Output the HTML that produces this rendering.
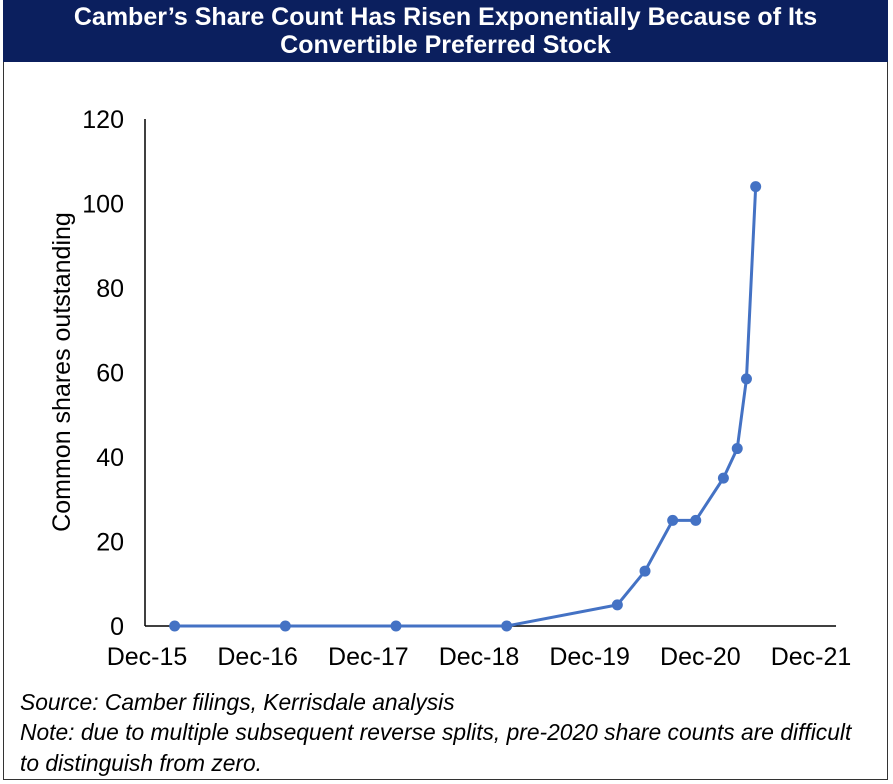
<!DOCTYPE html>
<html><head><meta charset="utf-8"><style>
body{margin:0;width:893px;height:784px;background:#fff;font-family:"Liberation Sans",Arial,sans-serif;overflow:hidden}
#frame{position:absolute;left:3px;top:0;width:885px;height:780px;border:1px solid #333;box-sizing:border-box}
#title{position:absolute;left:3px;top:0;width:885px;height:62px;background:#0b1f5e;color:#fff;font-weight:bold;font-size:25px;text-align:center;line-height:28px;padding-top:3px;box-sizing:border-box;white-space:nowrap}
.note{position:absolute;left:20px;font-style:italic;font-size:22.8px;color:#000}
</style></head><body>
<div id="frame"></div>
<div id="title">Camber’s Share Count Has Risen Exponentially Because of Its<br>Convertible Preferred Stock</div>
<svg id="chart" width="893" height="784" style="position:absolute;left:0;top:0"></svg>
<div class="note" style="top:689px">Source: Camber filings, Kerrisdale analysis</div>
<div class="note" style="top:717px;line-height:31px;width:860px">Note: due to multiple subsequent reverse splits, pre-2020 share counts are difficult<br>to distinguish from zero.</div>
<script>
const months=[3,15,27,39,51,54,57,59.5,62.5,64,65,66];
const shares=[0,0,0,0,5,13,25,25,35,42,58.5,104];
const xTickLabels=["Dec-15","Dec-16","Dec-17","Dec-18","Dec-19","Dec-20","Dec-21"];
const yTicks=[0,20,40,60,80,100,120];
const svg=document.getElementById('chart');const NS="http://www.w3.org/2000/svg";
const x=m=>147+m*110.67/12;
const y=v=>626-v*(507/120);
function mk(t,a,txt){const e=document.createElementNS(NS,t);for(const k in a)e.setAttribute(k,a[k]);if(txt!=null)e.textContent=txt;svg.appendChild(e);return e;}
let e=mk('line',{x1:145,y1:y(120),x2:145,y2:y(0),stroke:'#000','stroke-width':1.5});

e=mk('line',{x1:145,y1:y(0),x2:x(72)+25,y2:y(0),stroke:'#000','stroke-width':1.5});

yTicks.forEach(v=>{const t=mk('text',{x:124,y:y(v)+9,'text-anchor':'end','font-size':25,fill:'#000'},v);
});
xTickLabels.forEach((l,i)=>{const t=mk('text',{x:x(i*12),y:665,'text-anchor':'middle','font-size':25,fill:'#000'},l);
});
e=mk('text',{x:0,y:0,transform:'translate(70,372) rotate(-90)','text-anchor':'middle','font-size':25,fill:'#000'},'Common shares outstanding');

e=mk('polyline',{points:months.map((m,i)=>x(m)+','+y(shares[i])).join(' '),fill:'none',stroke:'#4472c4','stroke-width':3});

months.forEach((m,i)=>{const c=mk('circle',{cx:x(m),cy:y(shares[i]),r:5.5,fill:'#4472c4'});
});
</script>
</body></html>
